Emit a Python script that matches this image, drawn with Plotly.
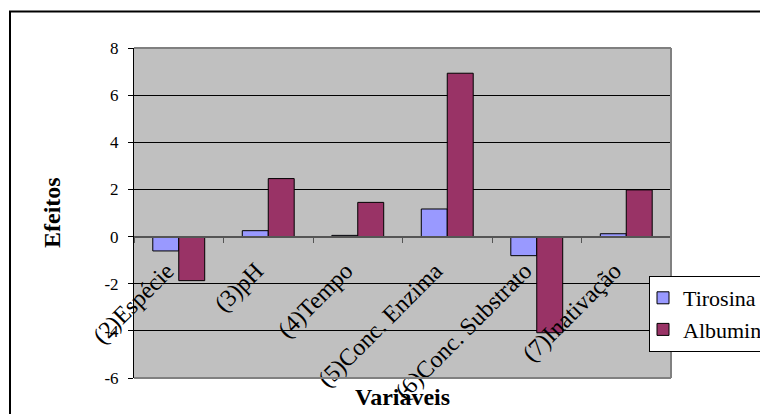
import plotly.graph_objects as go

categories = ["(2)Espécie", "(3)pH", "(4)Tempo", "(5)Conc. Enzima", "(6)Conc. Substrato", "(7)Inativação"]
tirosina = [-0.61, 0.25, 0.05, 1.17, -0.81, 0.12]
albumina = [-1.87, 2.46, 1.45, 6.93, -4.08, 1.98]
y_tick_vals = [-6, -4, -2, 0, 2, 4, 6, 8]
y_tick_text = ["-6", "-4", "-2", "0", "2", "4", "6", "8"]

FONT = "Liberation Serif"
OFF = 8  # page body margin offset
W, H = 768 - OFF, 414 - OFF
L, R, T, B = 134 - OFF, 671 - OFF, 48 - OFF, 378 - OFF  # plot area in figure pixels

def px_x(p):
    return (p - OFF - L) / (R - L)

def px_y(p):
    return (B - (p - OFF)) / (B - T)

fig = go.Figure()
fig.add_trace(go.Bar(name="Tirosina", x=categories, y=tirosina,
                     marker=dict(color="#9999FF", line=dict(color="black", width=1)),
                     legendgroup="t"))
fig.add_trace(go.Bar(name="Albumina", x=categories, y=albumina,
                     marker=dict(color="#993366", line=dict(color="black", width=1)),
                     legendgroup="a"))

ymin, ymax = -6, 8
zero_pos = (0 - ymin) / (ymax - ymin)

fig.update_layout(
    width=W, height=H,
    margin=dict(l=L, r=W - R, t=T, b=H - B, autoexpand=False),
    paper_bgcolor="white",
    plot_bgcolor="#C0C0C0",
    font=dict(family=FONT, color="black"),
    barmode="group", bargap=0.42, bargroupgap=0,
    showlegend=True,
    legend=dict(x=px_x(649), y=px_y(276), xanchor="left", yanchor="top",
                bgcolor="white", bordercolor="black", borderwidth=1,
                font=dict(family=FONT, size=22, color="black"),
                tracegroupgap=9, itemwidth=30, indentation=-7, traceorder="normal"),
    xaxis=dict(anchor="free", position=zero_pos, showline=True, linecolor="#555555",
               linewidth=1.5, ticks="outside", ticklen=6, tickcolor="#555555",
               tickson="boundaries", tickangle=-45,
               ticklabelstandoff=10, ticklabelshift=-12,
               tickfont=dict(family=FONT, size=24, color="black"),
               showgrid=False, zeroline=False),
    yaxis=dict(range=[ymin, ymax], tickvals=y_tick_vals, ticktext=y_tick_text,
               showgrid=True, gridcolor="black", gridwidth=1, zeroline=False,
               showline=True, linecolor="black", linewidth=1,
               ticks="outside", ticklen=5, tickcolor="black", ticklabelstandoff=6,
               tickfont=dict(family=FONT, size=17, color="black")),
    shapes=[
        # plot area border (top, right, bottom)
        dict(type="line", xref="paper", yref="paper", x0=0, x1=1, y0=1, y1=1,
             line=dict(color="#808080", width=2), layer="above"),
        dict(type="line", xref="paper", yref="paper", x0=1, x1=1, y0=0, y1=1,
             line=dict(color="#808080", width=2), layer="above"),
        dict(type="line", xref="paper", yref="paper", x0=0, x1=1, y0=0, y1=0,
             line=dict(color="#808080", width=2), layer="above"),
        # outer chart border
        dict(type="rect", xref="paper", yref="paper",
             x0=px_x(10), x1=px_x(800), y0=px_y(440), y1=px_y(11.5),
             line=dict(color="black", width=2), fillcolor="rgba(0,0,0,0)", layer="below"),
    ],
    annotations=[
        dict(text="<b>Efeitos</b>", xref="paper", yref="paper", x=px_x(52), y=0.5,
             textangle=-90, showarrow=False, xanchor="center", yanchor="middle",
             font=dict(family=FONT, size=24, color="black")),
        dict(text="<b>Variáveis</b>", xref="paper", yref="paper", x=px_x(402), y=px_y(397),
             showarrow=False, xanchor="center", yanchor="middle",
             font=dict(family=FONT, size=24, color="black")),
    ],
)

fig.write_html("out.html")
